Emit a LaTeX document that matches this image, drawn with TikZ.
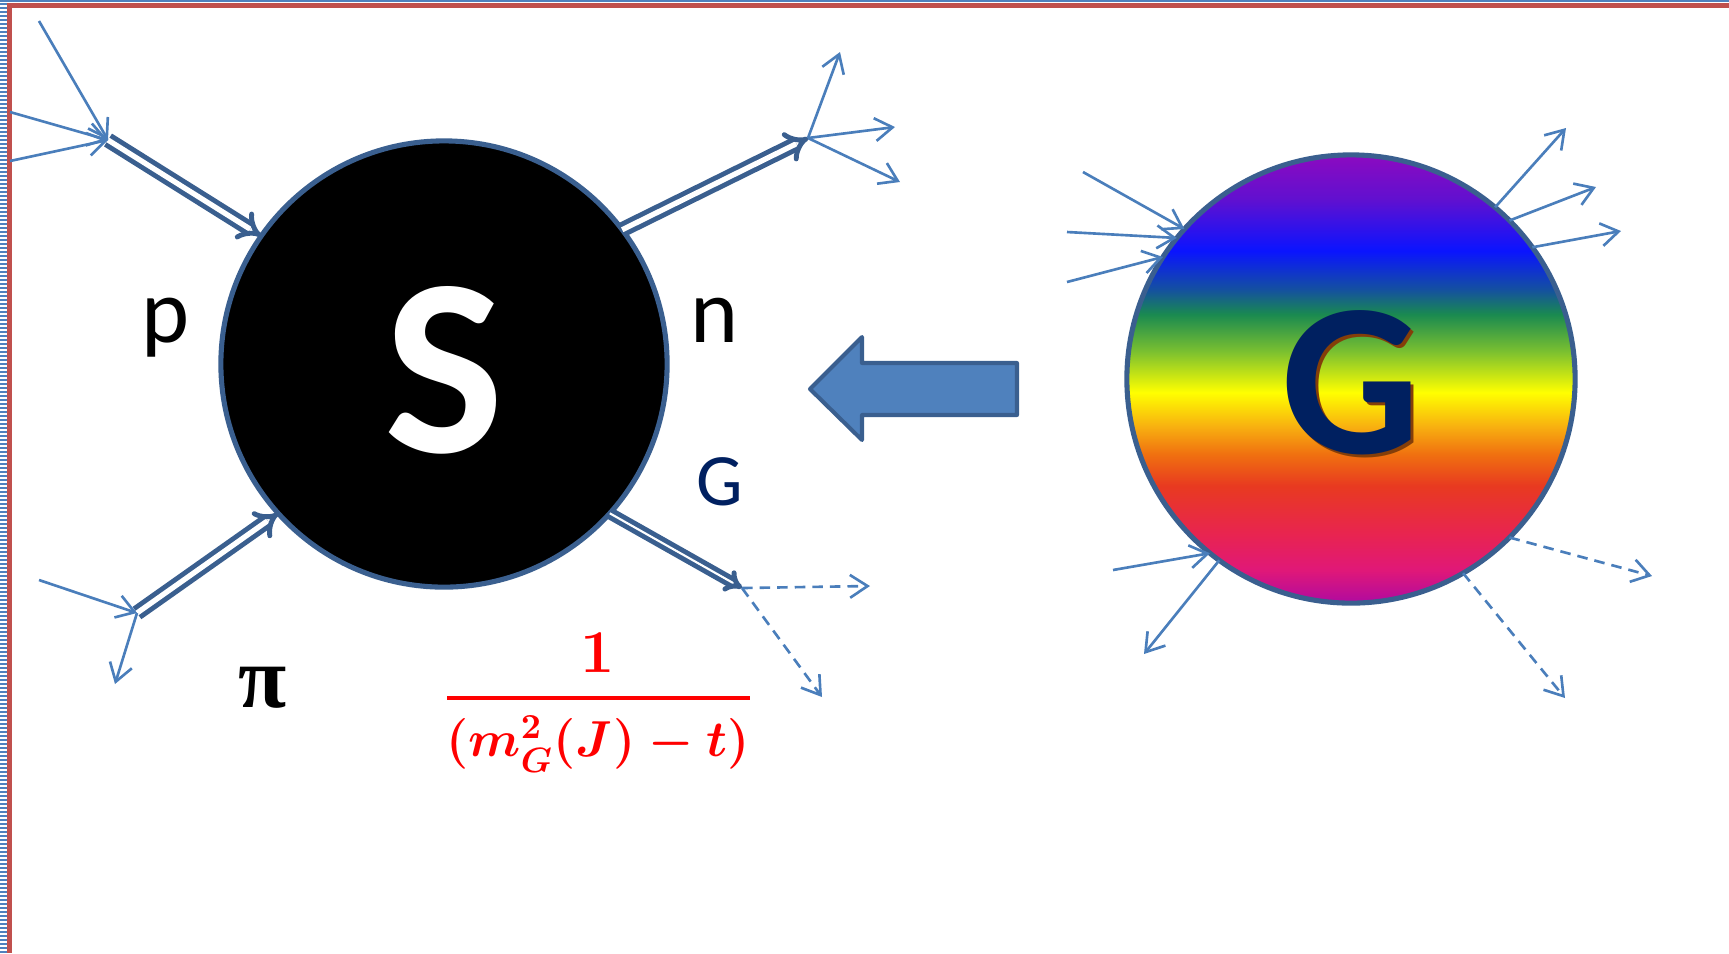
\documentclass[tikz,border=0pt]{standalone}
\usepackage{fontspec}
\usepackage{amsmath}
\usetikzlibrary{arrows.meta}
\newfontfamily\calib{Carlito}
\newfontfamily\greek{Liberation Serif}

\definecolor{edgeblue}{HTML}{3A5F8F}
\definecolor{thinblue}{HTML}{4A7EBB}
\definecolor{fillblue}{HTML}{4F81BD}
\definecolor{navy}{HTML}{002060}
\definecolor{framered}{HTML}{C0504D}

\definecolor{rb0}{HTML}{B00AA0}
\definecolor{rb1}{HTML}{E01878}
\definecolor{rb2}{HTML}{E82450}
\definecolor{rb3}{HTML}{E83A20}
\definecolor{rb4}{HTML}{F07010}
\definecolor{rb5}{HTML}{F8B010}
\definecolor{rb6}{HTML}{FFFF00}
\definecolor{rb7}{HTML}{7AC030}
\definecolor{rb8}{HTML}{1A8A50}
\definecolor{rb9}{HTML}{1450A0}
\definecolor{rb10}{HTML}{0A14FF}
\definecolor{rb11}{HTML}{6010D0}
\definecolor{rb12}{HTML}{8C0AC0}

\pgfdeclareverticalshading{rainbow}{100bp}{color(0bp)=(rb0); color(25bp)=(rb0);
  color(28.7bp)=(rb1); color(32.7bp)=(rb2); color(38.1bp)=(rb3); color(41.6bp)=(rb4);
  color(44.7bp)=(rb5); color(48.5bp)=(rb6); color(53.1bp)=(rb7); color(57.2bp)=(rb8);
  color(60bp)=(rb9); color(64.3bp)=(rb10); color(70bp)=(rb11); color(75bp)=(rb12);
  color(100bp)=(rb12)}

\begin{document}
\begin{tikzpicture}[x=0.01cm,y=-0.01cm]

\tikzset{
    thinline/.style = {thinblue, line width=0.75pt, -{Straight Barb[length=5pt,width=6.5pt]}},
    thindash/.style = {thinline, dash pattern=on 3pt off 2pt},
    heavy/.style = {edgeblue, line width=1.4pt, double=white, double distance=1.5pt, -{Implies}},
    ball/.style = {circle, draw=edgeblue, line width=1.45pt, inner sep=0pt, outer sep=0pt}
}

\useasboundingbox (0,0) rectangle (1729,953);

% frame
\fill[framered] (7,3) rectangle (1729,8);
\fill[framered] (7,3) rectangle (12,953);
\fill[fillblue] (0,0) rectangle (1729,2);
\foreach \y in {3,7,...,951}
    \fill[fillblue] (0,\y) rectangle (7,\y+2);

% the two blobs
\node[ball, fill=black, minimum size=4.46cm] (S) at (444,364) {};
\node[text=white] (Stext) at (444,370) {\calib\bfseries\fontsize{72}{80}\selectfont S};

\node[ball, shade, shading=rainbow, minimum size=4.48cm] (Gb) at (1351,379) {};
\node[text=navy] (Gtext) at (1351,384) {\calib\bfseries\fontsize{62}{70}\selectfont
    \rlap{\kern0.9pt\raisebox{-0.9pt}{\color{black!45!rb4}G}}G};

% labels
\node[anchor=base] (plabel) at (166,342) {\calib\fontsize{26}{30}\selectfont p};
\node[anchor=base] (nlabel) at (715,342) {\calib\fontsize{26}{30}\selectfont n};
\node[anchor=base, text=navy] (glabel) at (720,505) {\calib\fontsize{21}{24}\selectfont G};
\node (pilabel) at (263,688) {\greek\bfseries\fontsize{25}{28}\selectfont π};

% propagator
\node[text=red, inner sep=1pt] (num) at (598,653) {\fontsize{18}{20}\selectfont$\boldsymbol{1}$};
\draw[red, line width=1.1pt] (447,698) -- (750,698);
\node[text=red, inner sep=1pt] (den) at (598,744) {\fontsize{14}{16}\selectfont$\boldsymbol{(m_G^2(J)-t)}$};

% big arrow
\draw[fill=fillblue, draw=edgeblue, line width=1.15pt, line join=round]
    (810,389) -- (862,337) -- (862,363) -- (1017,363) -- (1017,415)
    -- (862,415) -- (862,440) -- cycle;

% vertices of S
\coordinate (pv) at (108,140);
\coordinate (nv) at (808,138);
\coordinate (piv) at (137,613);
\coordinate (gv) at (742,588);

\coordinate (pa) at (39,21);
\coordinate (pb) at (10,112);
\coordinate (pc) at (10,161);
\coordinate (na) at (840,52);
\coordinate (nb) at (895,127);
\coordinate (nc) at (900,182);
\coordinate (pia) at (39,580);
\coordinate (pib) at (115,684);
\coordinate (ga) at (870,586);
\coordinate (gb) at (822,697);

\draw[heavy] (pv) -- (S.145);
\draw[heavy] (S.37.5) -- (nv);
\draw[heavy] (piv) -- (S.222.6);
\draw[heavy, double distance=0.6pt] (S.318.6) -- (gv);

\draw[thinline] (pa) -- (pv);
\draw[thinline] (pb) -- (pv);
\draw[thinline] (pc) -- (pv);
\draw[thinline] (nv) -- (na);
\draw[thinline] (nv) -- (nb);
\draw[thinline] (nv) -- (nc);
\draw[thinline] (pia) -- (piv);
\draw[thinline] (piv) -- (pib);
\draw[thindash] (gv) -- (ga);
\draw[thindash] (gv) -- (gb);

% lines around G
\coordinate (ia) at (1083,172);
\coordinate (ib) at (1067,232);
\coordinate (ic) at (1067,282);
\coordinate (oa) at (1566,128);
\coordinate (ob) at (1596,187);
\coordinate (oc) at (1621,231);
\coordinate (id) at (1113,570);
\coordinate (od) at (1144,654);
\coordinate (da) at (1652,576);
\coordinate (db) at (1565,698);

\draw[thinline] (ia) -- (Gb.138.3);
\draw[thinline] (ib) -- (Gb.141.8);
\draw[thinline] (ic) -- (Gb.147.3);
\draw[thinline] (Gb.50.8) -- (oa);
\draw[thinline] (Gb.45.4) -- (ob);
\draw[thinline] (Gb.36.8) -- (oc);
\draw[thinline] (id) -- (Gb.231.3);
\draw[thinline] (Gb.234.4) -- (od);
\draw[thindash] (Gb.315) -- (da);
\draw[thindash] (Gb.300.6) -- (db);

\end{tikzpicture}
\end{document}
